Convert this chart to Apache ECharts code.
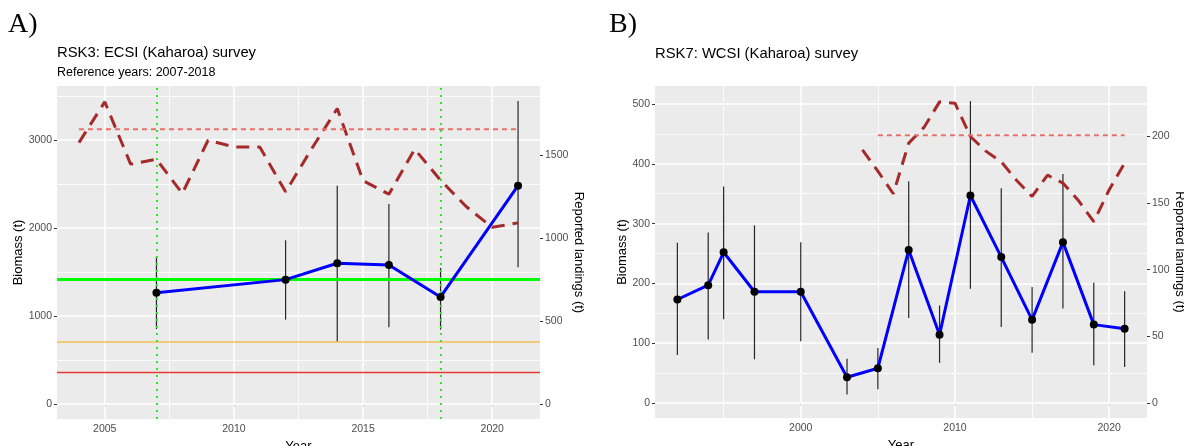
<!DOCTYPE html>
<html>
<head>
<meta charset="utf-8">
<script src="https://cdn.jsdelivr.net/npm/echarts@6/dist/echarts.min.js"></script>
<style>
	html, body { margin: 0; padding: 0; background: #fff; }
	#chartBox { width: 1184px; height: 446px; }
</style>
</head>
<body>
<div id="chartBox"></div>
<script>
// A) RSK3 ECSI survey
const surveyYearsA = [2007, 2012, 2014, 2016, 2018, 2021];
const biomassA = [1265, 1413, 1599, 1580, 1216, 2481];
const lowA = [852, 958, 712, 872, 845, 1553];
const highA = [1678, 1860, 2481, 2273, 1545, 3443];
const landingYearsA = [2004, 2005, 2006, 2007, 2008, 2009, 2010, 2011, 2012, 2013, 2014, 2015, 2016, 2017, 2018, 2019, 2020, 2021];
const landingsA = [1575, 1820, 1445, 1475, 1268, 1589, 1549, 1549, 1278, 1535, 1780, 1345, 1264, 1535, 1348, 1188, 1064, 1091];
const landingsMeanA = 1656;
const landingsMeanSpanA = [2004, 2021];
const refYearsA = [2007, 2018];
const targetA = 1415, softA = 707, hardA = 354;

// B) RSK7 WCSI survey
const surveyYearsB = [1992, 1994, 1995, 1997, 2000, 2003, 2005, 2007, 2009, 2011, 2013, 2015, 2017, 2019, 2021];
const biomassB = [173, 197, 252, 186, 186, 43, 58, 256, 114, 347, 244, 139, 269, 131, 124];
const lowB = [80, 106, 140, 73, 103, 14, 23, 142, 67, 191, 127, 84, 158, 63, 60];
const highB = [268, 285, 362, 297, 269, 74, 92, 371, 163, 505, 359, 194, 383, 201, 187];
const landingYearsB = [2004, 2005, 2006, 2007, 2008, 2009, 2010, 2011, 2012, 2013, 2014, 2015, 2016, 2017, 2018, 2019, 2020, 2021];
const landingsB = [190, 174, 157, 195, 207, 226, 225, 200, 189, 181, 167, 155, 171, 165, 152, 136, 160, 180];
const landingsMeanB = 201;
const landingsMeanSpanB = [2005, 2021];

// tick labels
const xTicksA = [2005, 2010, 2015, 2020];
const yTicksA = [0, 1000, 2000, 3000];
const y2TicksA = [0, 500, 1000, 1500];
const xTicksB = [2000, 2010, 2020];
const yTicksB = [0, 100, 200, 300, 400, 500];
const y2TicksB = [0, 50, 100, 150, 200];

const FONT = 'Liberation Sans, Arial, sans-serif';
const zip = (a, b) => a.map((v, i) => [v, b[i]]);
const mids = (t) => t.slice(0, -1).map((v, i) => (v + t[i + 1]) / 2);

//ggplot style axis
function valueAxis(opt) {
	return Object.assign({
		type: 'value',
		scale: true,
		axisLine: { show: false },
		axisTick: { show: true, length: 3, lineStyle: { color: '#333', width: 1 }, customValues: opt.ticks },
		axisLabel: {
			color: '#4D4D4D', fontSize: 10.5, fontFamily: FONT, margin: 5, customValues: opt.ticks,
			formatter: v => String(v)
		},
		splitLine: { show: false },
		nameTextStyle: { color: '#000', fontSize: 13, fontFamily: FONT },
		nameLocation: 'middle'
	}, opt.extra);
}

//white grid lines drawn as markLines
function gridLines(xi, yi, xMajor, xMinor, yMajor, yMinor) {
	let data = [];
	xMinor.forEach(v => data.push({ xAxis: v, lineStyle: { width: 0.8 } }));
	yMinor.forEach(v => data.push({ yAxis: v, lineStyle: { width: 0.8 } }));
	xMajor.forEach(v => data.push({ xAxis: v, lineStyle: { width: 1.5 } }));
	yMajor.forEach(v => data.push({ yAxis: v, lineStyle: { width: 1.5 } }));
	return {
		type: 'line', xAxisIndex: xi, yAxisIndex: yi, data: [], z: 1, silent: true,
		markLine: {
			z: 1, silent: true, symbol: ['none', 'none'], label: { show: false }, animation: false,
			lineStyle: { color: '#FFFFFF', type: 'solid' },
			data: data
		}
	};
}

function errorBars(xi, yi, years, lo, hi) {
	return {
		type: 'custom', xAxisIndex: xi, yAxisIndex: yi, z: 3,
		data: years.map((y, i) => [y, lo[i], hi[i]]),
		encode: { x: 0, y: [1, 2] },
		renderItem: function (params, api) {
			let p1 = api.coord([api.value(0), api.value(1)]);
			let p2 = api.coord([api.value(0), api.value(2)]);
			return {
				type: 'line',
				shape: { x1: p1[0], y1: p1[1], x2: p2[0], y2: p2[1] },
				style: { stroke: '#262626', lineWidth: 1.2 }
			};
		}
	};
}

function biomassLine(xi, yi, years, vals) {
	return {
		type: 'line', xAxisIndex: xi, yAxisIndex: yi, z: 6,
		data: zip(years, vals),
		symbol: 'circle', symbolSize: 8,
		itemStyle: { color: '#000' },
		lineStyle: { color: '#0000FF', width: 3 }
	};
}

function landingsLine(xi, yi, years, vals) {
	return {
		type: 'line', xAxisIndex: xi, yAxisIndex: yi, z: 4,
		data: zip(years, vals), symbol: 'none',
		lineStyle: { color: '#A52A2A', width: 3, type: [13, 8] }
	};
}

function meanLine(xi, yi, span, val) {
	return {
		type: 'line', xAxisIndex: xi, yAxisIndex: yi, z: 4,
		data: span.map(y => [y, val]), symbol: 'none',
		lineStyle: { color: '#E8706A', width: 2, type: [5, 4] }
	};
}

function text(x, y, str, size, family) {
	return {
		type: 'text', x: x, y: y,
		style: { text: str, fill: '#000', font: size + 'px ' + (family || FONT), verticalAlign: 'middle' }
	};
}

let myChart = echarts.init(document.getElementById('chartBox'));
let option = {
	animation: false,
	backgroundColor: '#fff',
	graphic: [
		text(8, 25, 'A)', 28, 'Liberation Serif, Times New Roman, serif'),
		text(57, 53, 'RSK3: ECSI (Kaharoa) survey', 14.8),
		text(57, 73, 'Reference years: 2007-2018', 12.5),
		text(609, 25, 'B)', 28, 'Liberation Serif, Times New Roman, serif'),
		text(655, 54, 'RSK7: WCSI (Kaharoa) survey', 14.8)
	],
	grid: [
		{ left: 57, top: 86, width: 483, height: 333, show: true, backgroundColor: '#EBEBEB', borderWidth: 0, outerBoundsMode: 'none', containLabel: false },
		{ left: 655, top: 86, width: 492, height: 332, show: true, backgroundColor: '#EBEBEB', borderWidth: 0, outerBoundsMode: 'none', containLabel: false }
	],
	xAxis: [
		valueAxis({ ticks: xTicksA, extra: { gridIndex: 0, min: 2003.15, max: 2021.85, name: 'Year', nameGap: 19 } }),
		valueAxis({ ticks: xTicksB, extra: { gridIndex: 1, min: 1990.55, max: 2022.45, name: 'Year', nameGap: 19 } })
	],
	yAxis: [
		valueAxis({ ticks: yTicksA, extra: { gridIndex: 0, min: -172, max: 3615, name: 'Biomass (t)', nameGap: 29 } }),
		valueAxis({ ticks: y2TicksA, extra: { gridIndex: 0, position: 'right', min: -91.2, max: 1916, name: 'Reported landings (t)', nameGap: 25, nameRotate: -90 } }),
		valueAxis({ ticks: yTicksB, extra: { gridIndex: 1, min: -25.25, max: 530.25, name: 'Biomass (t)', nameGap: 25 } }),
		valueAxis({ ticks: y2TicksB, extra: { gridIndex: 1, position: 'right', min: -11.33, max: 237.9, name: 'Reported landings (t)', nameGap: 19, nameRotate: -90 } })
	],
	series: [
		gridLines(0, 0, xTicksA, mids(xTicksA), yTicksA, [500, 1500, 2500, 3500]),
		gridLines(1, 2, xTicksB, [1995, 2005, 2015], yTicksB, mids(yTicksB)),

		// panel A
		{
			type: 'line', xAxisIndex: 0, yAxisIndex: 0, data: [], z: 2, silent: true,
			markLine: {
				z: 2, silent: true, symbol: ['none', 'none'], label: { show: false }, animation: false,
				data: [
					{ yAxis: hardA, lineStyle: { color: '#E53935', width: 1.3, type: 'solid' } },
					{ yAxis: softA, lineStyle: { color: '#F5BE50', width: 1.5, type: 'solid' } }
				]
			}
		},
		landingsLine(0, 1, landingYearsA, landingsA),
		meanLine(0, 1, landingsMeanSpanA, landingsMeanA),
		errorBars(0, 0, surveyYearsA, lowA, highA),
		{
			type: 'line', xAxisIndex: 0, yAxisIndex: 0, data: [], z: 5, silent: true,
			markLine: {
				z: 5, silent: true, symbol: ['none', 'none'], label: { show: false }, animation: false,
				data: [
					{ yAxis: targetA, lineStyle: { color: '#00FF00', width: 3, type: 'solid' } },
					{ xAxis: refYearsA[0], lineStyle: { color: '#22EE22', width: 2, type: [2, 5] } },
					{ xAxis: refYearsA[1], lineStyle: { color: '#22EE22', width: 2, type: [2, 5] } }
				]
			}
		},
		biomassLine(0, 0, surveyYearsA, biomassA),

		// panel B
		landingsLine(1, 3, landingYearsB, landingsB),
		meanLine(1, 3, landingsMeanSpanB, landingsMeanB),
		errorBars(1, 2, surveyYearsB, lowB, highB),
		biomassLine(1, 2, surveyYearsB, biomassB)
	]
};
myChart.setOption(option, true);
</script>
</body>
</html>
